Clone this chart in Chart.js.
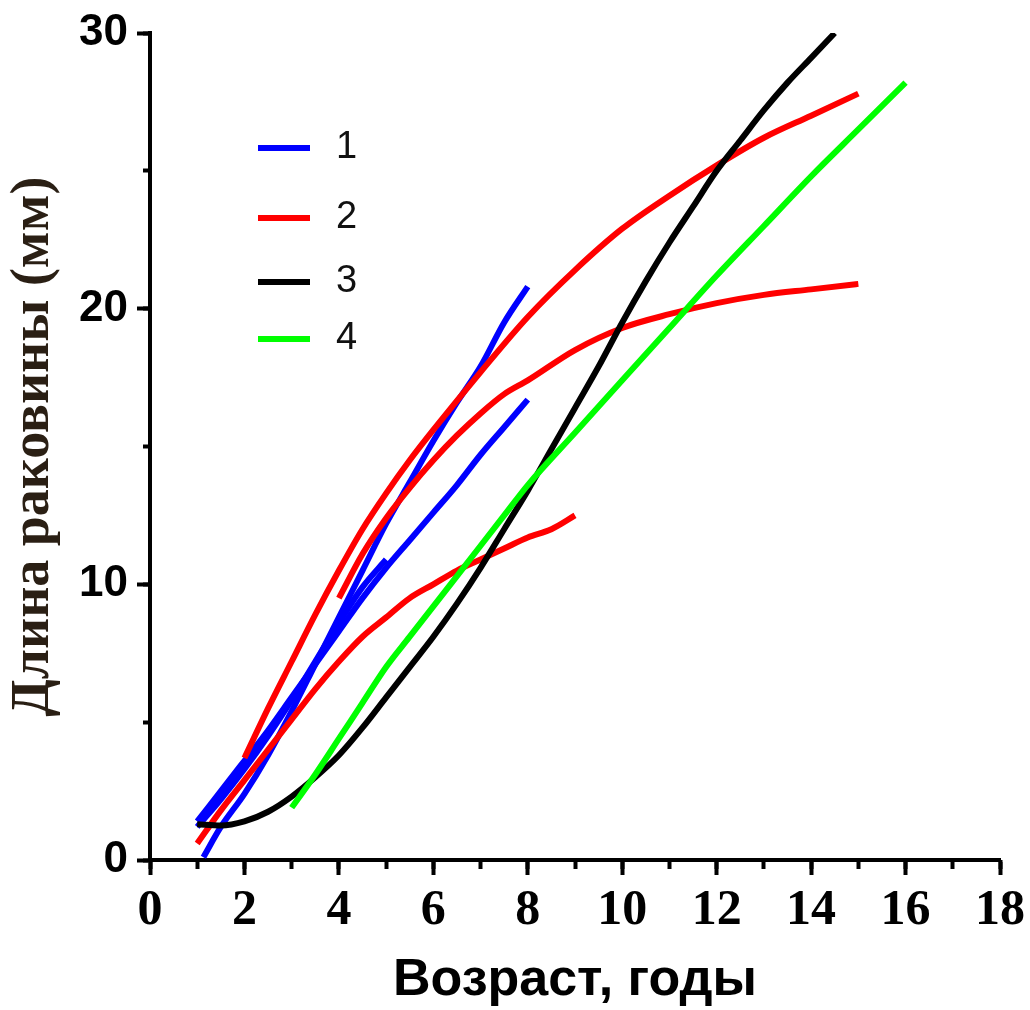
<!DOCTYPE html>
<html>
<head>
<meta charset="utf-8">
<script src="https://cdn.jsdelivr.net/npm/chart.js@4.4.1/dist/chart.umd.min.js"></script>
<style>
  html, body { margin: 0; padding: 0; background: #fff; }
  canvas { display: block; }
</style>
</head>
<body>
<canvas id="growthChart" width="1030" height="1010"></canvas>
<script>
// shell length vs age, four groups of growth curves
const seriesNames = ['1', '2', '3', '4'];
const seriesColors = ['#0000ff', '#ff0000', '#000000', '#00ff00'];

// group 1 (blue)
const ageB1 = [1.13, 1.5, 2, 2.5, 3, 3.5, 4, 4.5, 5, 5.5, 6, 6.5, 7, 7.5, 8];
const lenB1 = [0.1, 1.2, 2.4, 3.8, 5.4, 7.1, 8.8, 10.5, 12.2, 13.7, 15.2, 16.6, 17.9, 19.5, 20.8];
const ageB2 = [1.0, 1.5, 2, 2.5, 3, 3.5, 4, 4.5, 5, 5.5, 6, 6.5, 7, 7.5, 8];
const lenB2 = [1.4, 2.5, 3.6, 4.7, 5.9, 7.1, 8.3, 9.5, 10.6, 11.6, 12.6, 13.6, 14.7, 15.7, 16.7];
const ageB3 = [1.0, 1.5, 2, 2.5, 3, 3.5, 4, 4.5, 5];
const lenB3 = [1.2, 2.2, 3.3, 4.5, 5.8, 7.2, 8.6, 9.9, 10.9];

// group 2 (red)
const ageR1 = [1.0, 1.5, 2, 2.5, 3, 3.5, 4, 4.5, 5, 5.5, 6, 6.5, 7, 7.5, 8, 8.5, 9];
const lenR1 = [0.6, 1.8, 2.9, 4.0, 5.1, 6.2, 7.2, 8.1, 8.8, 9.5, 10.0, 10.5, 10.9, 11.3, 11.7, 12.0, 12.5];
const ageR2 = [2, 2.5, 3, 3.5, 4, 4.5, 5, 5.5, 6, 7, 8, 9, 10, 11, 12, 13, 14, 15];
const lenR2 = [3.7, 5.5, 7.2, 8.9, 10.5, 12.0, 13.3, 14.5, 15.6, 17.7, 19.7, 21.4, 22.9, 24.1, 25.2, 26.2, 27.0, 27.8];
const ageR3 = [4, 4.5, 5, 5.5, 6, 6.5, 7, 7.5, 8, 9, 10, 11, 12, 13, 14, 15];
const lenR3 = [9.5, 11.1, 12.4, 13.5, 14.5, 15.4, 16.2, 16.9, 17.4, 18.5, 19.3, 19.8, 20.2, 20.5, 20.7, 20.9];

// group 3 (black)
const ageK1 = [1.0, 1.5, 2, 2.5, 3, 3.5, 4, 4.5, 5, 5.5, 6, 6.5, 7, 7.5, 8, 8.5, 9, 9.5, 10, 10.5, 11, 11.5, 12, 12.5, 13, 13.5, 14, 14.5];
const lenK1 = [1.3, 1.25, 1.4, 1.75, 2.3, 3.0, 3.8, 4.8, 5.9, 7.0, 8.1, 9.3, 10.6, 12.0, 13.4, 14.9, 16.4, 17.9, 19.5, 21.0, 22.4, 23.7, 25.0, 26.1, 27.2, 28.2, 29.1, 30.0];

// group 4 (green)
const ageG1 = [3, 3.5, 4, 4.5, 5, 5.5, 6, 6.5, 7, 7.5, 8, 9, 10, 11, 12, 13, 14, 15, 16];
const lenG1 = [1.9, 3.1, 4.4, 5.7, 7.0, 8.1, 9.2, 10.3, 11.4, 12.5, 13.6, 15.5, 17.4, 19.3, 21.2, 23.0, 24.8, 26.5, 28.2];

const xTicks = [0, 2, 4, 6, 8, 10, 12, 14, 16, 18];
const yTicks = [0, 10, 20, 30];

function curve(group, ages, lens) {
  return {
    label: seriesNames[group],
    data: ages.map((a, i) => ({ x: a, y: lens[i] })),
    borderColor: seriesColors[group],
    borderWidth: 6,
    borderCapStyle: 'butt',
    pointRadius: 0,
    fill: false,
    cubicInterpolationMode: 'monotone',
    xAxisID: 'x',
    yAxisID: 'y'
  };
}

// first dataset ends up on top
const datasets = [
  curve(3, ageG1, lenG1),
  curve(2, ageK1, lenK1),
  curve(1, ageR1, lenR1),
  curve(1, ageR2, lenR2),
  curve(1, ageR3, lenR3),
  curve(0, ageB1, lenB1),
  curve(0, ageB2, lenB2),
  curve(0, ageB3, lenB3)
];

const sansFont = '"Liberation Sans", Arial, sans-serif';
const serifFont = '"Liberation Serif", "Times New Roman", serif';

// legend inside the plot: short line + number
const insideLegend = {
  id: 'insideLegend',
  afterDraw(chart) {
    const ctx = chart.ctx;
    const rows = [148, 218, 282, 339];
    ctx.save();
    ctx.font = '38px ' + sansFont;
    ctx.textBaseline = 'middle';
    ctx.textAlign = 'left';
    seriesNames.forEach((name, i) => {
      ctx.strokeStyle = seriesColors[i];
      ctx.lineWidth = 6;
      ctx.beginPath();
      ctx.moveTo(258, rows[i]);
      ctx.lineTo(310, rows[i]);
      ctx.stroke();
      ctx.fillStyle = '#111';
      ctx.fillText(name, 336, rows[i]);
    });
    ctx.restore();
  }
};

function fixWidth(w) {
  return function (s) { s.width = w; s.paddingTop = 0; s.paddingBottom = 0; };
}
function fixHeight(h) {
  return function (s) { s.height = h; s.paddingLeft = 0; s.paddingRight = 0; };
}

new Chart(document.getElementById('growthChart'), {
  type: 'line',
  data: { datasets: datasets },
  options: {
    responsive: false,
    animation: false,
    devicePixelRatio: 1,
    layout: { padding: { top: 33, right: 30, left: 0, bottom: 0 } },
    plugins: { legend: { display: false }, tooltip: { enabled: false } },
    scales: {
      x: {
        type: 'linear', position: 'bottom', weight: 1,
        min: xTicks[0], max: xTicks[xTicks.length - 1],
        afterBuildTicks: s => { s.ticks = xTicks.map(v => ({ value: v })); },
        ticks: {
          color: '#000', padding: 6, maxRotation: 0, autoSkip: false,
          font: { family: serifFont, size: 50, weight: 'bold' }
        },
        grid: { drawOnChartArea: false, tickLength: 15, tickWidth: 4, tickColor: '#000' },
        border: { color: '#000', width: 4 },
        title: {
          display: true, text: 'Возраст, годы', color: '#000',
          font: { family: sansFont, size: 52, weight: 'bold', lineHeight: 1 },
          padding: { top: 0, bottom: 3 }
        },
        afterFit: fixHeight(150)
      },
      xMinor: {
        type: 'linear', position: 'bottom', weight: 0,
        min: 0, max: 18,
        ticks: { stepSize: 1, display: false },
        grid: { drawOnChartArea: false, tickLength: 9, tickWidth: 4, tickColor: '#000' },
        border: { display: false },
        afterFit: fixHeight(0)
      },
      y: {
        type: 'linear', position: 'left', weight: 1,
        min: yTicks[0], max: yTicks[yTicks.length - 1],
        afterBuildTicks: s => { s.ticks = yTicks.map(v => ({ value: v })); },
        ticks: {
          color: '#000', padding: 9,
          font: { family: sansFont, size: 44, weight: 'bold' }
        },
        grid: { drawOnChartArea: false, tickLength: 13, tickWidth: 4, tickColor: '#000' },
        border: { color: '#000', width: 4 },
        title: {
          display: true, text: 'Длина раковины (мм)', color: '#2a1f14',
          font: { family: serifFont, size: 54, weight: 'bold', lineHeight: 1 },
          padding: { top: 7, bottom: 0 }
        },
        afterFit: fixWidth(150)
      },
      yMinor: {
        type: 'linear', position: 'left', weight: 0,
        min: 0, max: 30,
        ticks: { stepSize: 5, display: false },
        grid: { drawOnChartArea: false, tickLength: 7, tickWidth: 4, tickColor: '#000' },
        border: { display: false },
        afterFit: fixWidth(0)
      }
    }
  },
  plugins: [insideLegend]
});
</script>
</body>
</html>
